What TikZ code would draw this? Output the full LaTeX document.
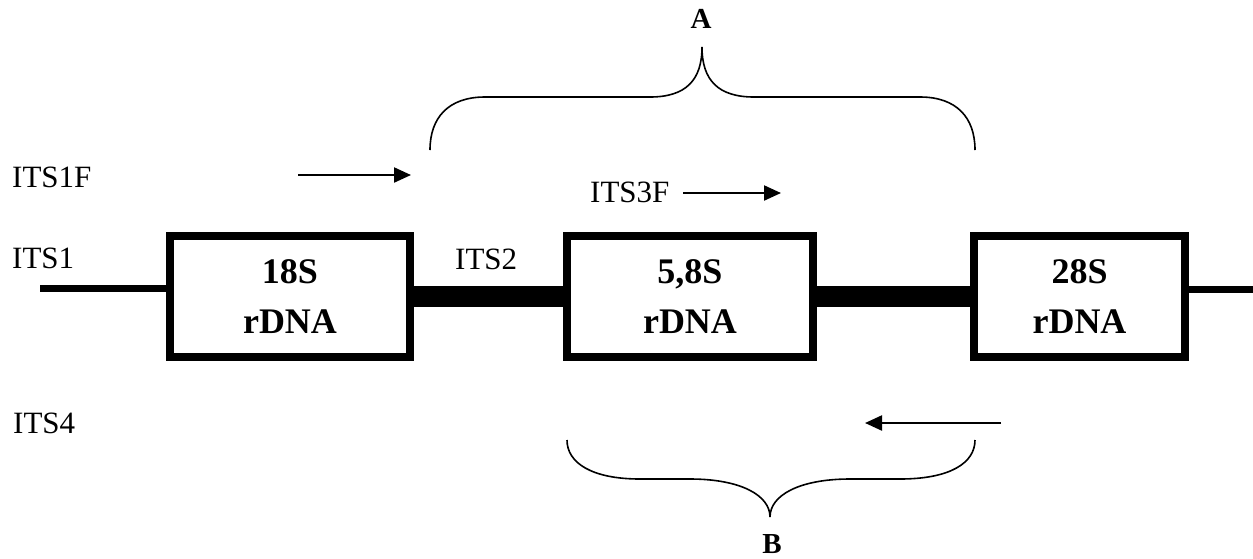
\documentclass[tikz,border=0pt]{standalone}
\usepackage{fontspec}
\setmainfont{Liberation Serif}
\usetikzlibrary{arrows.meta}
\begin{document}
\begin{tikzpicture}[x=1pt,y=-1pt,
  genebox/.style={draw=black,line width=8pt,inner sep=0pt,align=center,
    minimum height=121pt,font=\fontsize{36}{50}\selectfont\bfseries},
  lbl/.style={inner sep=0pt,anchor=base west,font=\fontsize{31}{36}\selectfont},
  bracelbl/.style={inner sep=0pt,anchor=base,font=\fontsize{29}{34}\selectfont\bfseries},
  thinline/.style={line width=7pt},
  thickline/.style={line width=21pt},
  primer/.style={line width=2.2pt,-{Triangle[length=17pt,width=15pt]}},
  bracestyle/.style={line width=1.6pt}]
\useasboundingbox (0,0) rectangle (1253,558);
% boxes
\node[genebox,minimum width=240pt] (b18) at (290,296.5) {18S\\rDNA};
\node[genebox,minimum width=246pt] (b58) at (690,296.5) {5,8S\\rDNA};
\node[genebox,minimum width=211pt] (b28) at (1079.5,296.5) {28S\\rDNA};
% DNA line
\coordinate (lend) at (40,288.5);
\coordinate (rend) at (1253,289);
\draw[thinline] (lend) -- (lend -| b18.west);
\draw[thickline] (b18.east) -- (b58.west);
\draw[thickline] (b58.east) -- (b28.west);
\draw[thinline] (rend -| b28.east) -- (rend);
% labels
\node[lbl] (its1f) at (12,187) {ITS1F};
\node[lbl] (its1) at (12,268) {ITS1};
\node[lbl] (its2) at (455,269) {ITS2};
\node[lbl] (its3f) at (590,202) {ITS3F};
\node[lbl] (its4) at (13,433) {ITS4};
% primer arrows
\coordinate (p1s) at (298,175);
\coordinate (p1e) at (411,175);
\draw[primer] (p1s) -- (p1e);
\coordinate (p3s) at (683,193);
\coordinate (p3e) at (781,193);
\draw[primer] (p3s) -- (p3e);
\coordinate (p4s) at (1001,423);
\coordinate (p4e) at (865,423);
\draw[primer] (p4s) -- (p4e);
% brace A
\coordinate (Atip) at (702,47);
\draw[bracestyle] (430,150) .. controls (430,118) and (448,97) .. (485,97)
  -- (650,97) .. controls (686,97) and (702,80) .. (Atip)
  .. controls (702,80) and (718,97) .. (754,97)
  -- (920,97) .. controls (957,97) and (975,118) .. (975,150);
\node[bracelbl] (A) at (701,28) {A};
% brace B
\coordinate (Btip) at (770,517);
\draw[bracestyle] (567,440) .. controls (567,463) and (592,479) .. (640,479)
  -- (690,479) .. controls (740,479) and (770,495) .. (Btip)
  .. controls (770,495) and (800,479) .. (850,479)
  -- (900,479) .. controls (950,479) and (975,463) .. (975,440);
\node[bracelbl] (B) at (772,553) {B};
\end{tikzpicture}
\end{document}
